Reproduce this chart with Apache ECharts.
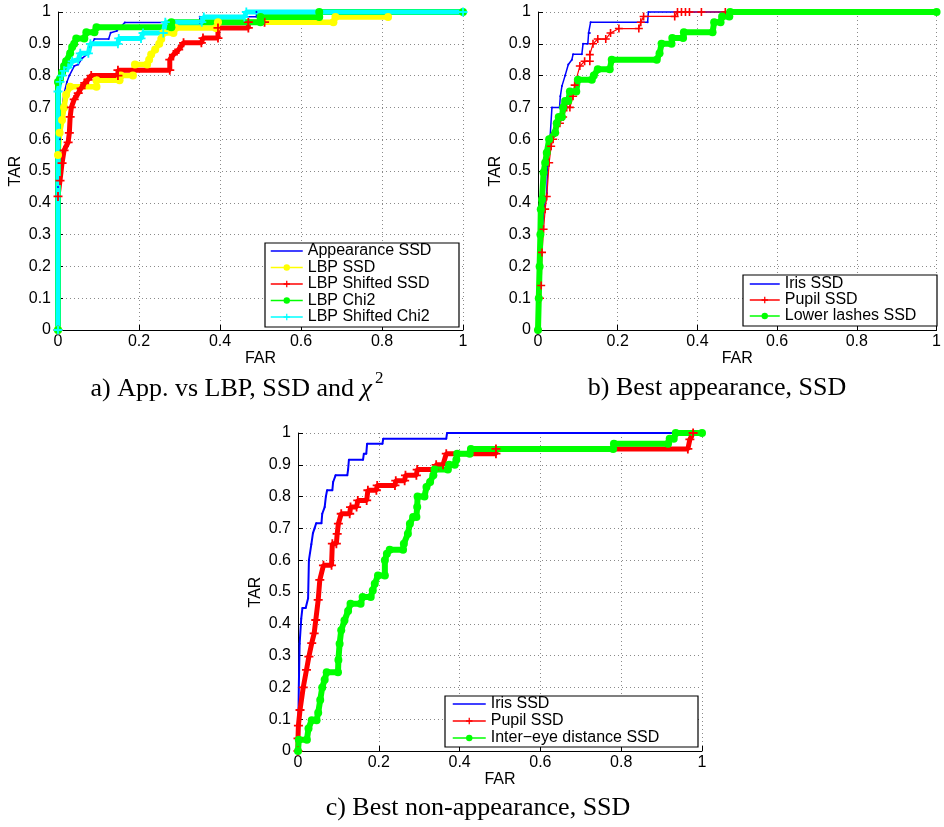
<!DOCTYPE html>
<html><head><meta charset="utf-8">
<script src="https://cdn.jsdelivr.net/npm/echarts@6/dist/echarts.min.js"></script>
<style>html,body{margin:0;padding:0;background:#fff}#c{width:944px;height:827px}</style>
</head><body><div id="c"></div>
<script>
// ---- tick labels ----
const xTickLabels = ['0', '0.2', '0.4', '0.6', '0.8', '1'];
const yTickLabels = ['0', '0.1', '0.2', '0.3', '0.4', '0.5', '0.6', '0.7', '0.8', '0.9', '1'];

// ---- a) App. vs LBP ----
const aAppearanceSSD = [[0,0],[0,0.45],[0.005,0.6],[0.01,0.7],[0.015,0.745],[0.022,0.78],[0.028,0.8],[0.04,0.83],[0.05,0.835],[0.06,0.855],[0.075,0.87],[0.08,0.89],[0.09,0.915],[0.125,0.915],[0.13,0.935],[0.145,0.94],[0.165,0.967],[0.35,0.967],[0.35,0.985],[0.49,0.985],[0.49,1],[1,1]];
const aLbpSSD = [[0,0],[0,0.55],[0.004,0.62],[0.01,0.66],[0.015,0.7],[0.02,0.74],[0.03,0.765],[0.095,0.765],[0.095,0.785],[0.152,0.785],[0.155,0.8],[0.185,0.8],[0.19,0.835],[0.22,0.835],[0.225,0.85],[0.23,0.866],[0.24,0.882],[0.25,0.9],[0.255,0.915],[0.26,0.934],[0.285,0.934],[0.29,0.95],[0.39,0.95],[0.395,0.968],[0.68,0.968],[0.685,0.984],[0.815,0.984]];
const aLbpShiftedSSD = [[0,0],[0,0.42],[0.005,0.47],[0.01,0.525],[0.015,0.565],[0.025,0.59],[0.028,0.62],[0.03,0.67],[0.033,0.7],[0.04,0.725],[0.05,0.745],[0.057,0.76],[0.066,0.777],[0.074,0.787],[0.082,0.8],[0.148,0.8],[0.148,0.817],[0.276,0.817],[0.276,0.85],[0.285,0.866],[0.298,0.882],[0.31,0.903],[0.354,0.903],[0.358,0.918],[0.395,0.918],[0.395,0.95],[0.47,0.95],[0.47,0.968],[0.51,0.968]];
const aLbpChi2 = [[0,0],[0,0.78],[0.005,0.79],[0.01,0.81],[0.015,0.83],[0.02,0.845],[0.03,0.87],[0.035,0.89],[0.04,0.9],[0.045,0.917],[0.065,0.917],[0.07,0.936],[0.09,0.936],[0.095,0.952],[0.28,0.952],[0.28,0.968],[0.5,0.968],[0.5,0.984],[0.645,0.984],[0.645,1],[1,1]];
const aLbpShiftedChi2 = [[0,0],[0,0.75],[0.005,0.78],[0.01,0.8],[0.015,0.815],[0.025,0.825],[0.035,0.845],[0.05,0.85],[0.055,0.87],[0.075,0.87],[0.08,0.9],[0.148,0.9],[0.15,0.917],[0.205,0.917],[0.21,0.934],[0.26,0.934],[0.265,0.968],[0.355,0.968],[0.36,0.984],[0.46,0.984],[0.465,1],[1,1]];

// ---- b) Best appearance ----
const bIrisSSD = [[0,0],[0.005,0.2],[0.01,0.3],[0.015,0.38],[0.022,0.43],[0.024,0.516],[0.03,0.6],[0.035,0.7],[0.054,0.7],[0.056,0.735],[0.06,0.767],[0.068,0.8],[0.076,0.835],[0.085,0.85],[0.088,0.867],[0.11,0.867],[0.113,0.9],[0.125,0.9],[0.127,0.934],[0.13,0.934],[0.132,0.968],[0.275,0.968],[0.277,1],[1,1]];
const bPupilSSD = [[0,0],[0.005,0.1],[0.008,0.14],[0.01,0.244],[0.014,0.317],[0.018,0.38],[0.022,0.42],[0.028,0.526],[0.033,0.578],[0.038,0.6],[0.043,0.62],[0.055,0.65],[0.063,0.67],[0.072,0.7],[0.08,0.7],[0.088,0.735],[0.092,0.77],[0.105,0.83],[0.117,0.845],[0.13,0.845],[0.13,0.866],[0.138,0.9],[0.15,0.915],[0.17,0.915],[0.182,0.934],[0.203,0.948],[0.253,0.948],[0.258,0.968],[0.265,0.986],[0.343,0.986],[0.35,1],[0.36,1],[0.37,1],[0.38,1],[0.41,1],[0.47,1]];
const bLowerLashesSSD = [[0,0],[0.002,0.1],[0.004,0.2],[0.006,0.3],[0.007,0.38],[0.01,0.41],[0.014,0.495],[0.018,0.526],[0.022,0.557],[0.028,0.6],[0.043,0.62],[0.047,0.65],[0.052,0.67],[0.06,0.67],[0.063,0.7],[0.068,0.72],[0.076,0.72],[0.08,0.75],[0.096,0.75],[0.1,0.787],[0.135,0.787],[0.14,0.8],[0.15,0.82],[0.18,0.82],[0.185,0.85],[0.298,0.85],[0.305,0.87],[0.31,0.9],[0.335,0.9],[0.337,0.918],[0.364,0.918],[0.366,0.936],[0.438,0.936],[0.442,0.968],[0.458,0.968],[0.462,0.986],[0.48,0.986],[0.482,1],[1,1]];

// ---- c) Best non-appearance ----
const cIrisSSD = [[0,0],[0.002,0.2],[0.004,0.337],[0.008,0.416],[0.011,0.45],[0.019,0.45],[0.025,0.48],[0.027,0.6],[0.033,0.65],[0.037,0.685],[0.041,0.7],[0.045,0.716],[0.058,0.716],[0.06,0.746],[0.066,0.767],[0.069,0.8],[0.072,0.82],[0.085,0.82],[0.087,0.846],[0.093,0.867],[0.122,0.867],[0.124,0.885],[0.126,0.916],[0.161,0.916],[0.163,0.935],[0.169,0.935],[0.171,0.966],[0.209,0.966],[0.211,0.982],[0.367,0.982],[0.369,1],[1,1]];
const cPupilSSD = [[0,0],[0,0.04],[0.001,0.08],[0.005,0.129],[0.013,0.2],[0.021,0.255],[0.027,0.297],[0.034,0.339],[0.04,0.37],[0.044,0.412],[0.05,0.475],[0.054,0.538],[0.063,0.584],[0.083,0.584],[0.085,0.652],[0.095,0.652],[0.097,0.683],[0.1,0.715],[0.107,0.746],[0.128,0.746],[0.13,0.767],[0.145,0.767],[0.148,0.788],[0.17,0.788],[0.173,0.82],[0.194,0.82],[0.196,0.835],[0.24,0.835],[0.242,0.85],[0.264,0.85],[0.266,0.867],[0.293,0.867],[0.295,0.885],[0.338,0.885],[0.342,0.9],[0.359,0.9],[0.367,0.935],[0.49,0.935],[0.49,0.95],[0.965,0.95],[0.97,0.98],[0.978,1]];
const cInterEyeSSD = [[0,0],[0.002,0.035],[0.022,0.035],[0.026,0.071],[0.034,0.097],[0.046,0.097],[0.05,0.12],[0.055,0.16],[0.06,0.2],[0.066,0.224],[0.071,0.248],[0.099,0.248],[0.1,0.286],[0.103,0.337],[0.107,0.38],[0.115,0.41],[0.124,0.44],[0.13,0.463],[0.155,0.463],[0.16,0.484],[0.18,0.484],[0.185,0.505],[0.19,0.526],[0.198,0.552],[0.215,0.552],[0.215,0.6],[0.22,0.62],[0.227,0.633],[0.26,0.633],[0.262,0.652],[0.272,0.683],[0.277,0.715],[0.285,0.736],[0.293,0.736],[0.295,0.767],[0.296,0.8],[0.313,0.8],[0.318,0.83],[0.327,0.846],[0.335,0.867],[0.338,0.885],[0.371,0.885],[0.374,0.9],[0.388,0.9],[0.392,0.916],[0.394,0.935],[0.425,0.935],[0.428,0.95],[0.78,0.95],[0.782,0.966],[0.916,0.966],[0.92,0.982],[0.93,0.982],[0.935,1],[1,1]];

const SANS = '"Liberation Sans", Arial, Helvetica, sans-serif';
const SERIF = '"Liberation Serif", "Times New Roman", serif';
const PLUS = 'path://M4,0L6,0L6,4L10,4L10,6L6,6L6,10L4,10L4,6L0,6L0,4L4,4Z';

const grids = [
  {left: 58, top: 12, width: 405, height: 318},
  {left: 538, top: 12, width: 405, height: 318},
  {left: 298, top: 433, width: 404, height: 318}
];

function xAx(i) {
  return {
    gridIndex: i, type: 'value', min: 0, max: 1, interval: 0.2,
    name: 'FAR', nameLocation: 'middle', nameGap: 17,
    nameTextStyle: {fontFamily: SANS, fontSize: 16, color: '#000'},
    axisLine: {show: true, onZero: false, lineStyle: {color: '#000', width: 1}},
    axisTick: {show: true, inside: true, length: 5, lineStyle: {color: '#000'}},
    axisLabel: {color: '#000', fontFamily: SANS, fontSize: 16, margin: 4,
      formatter: v => xTickLabels[Math.round(v / 0.2)]},
    splitLine: {show: true, lineStyle: {type: [1, 3], color: '#8a8a8a', width: 1}}
  };
}
function yAx(i) {
  return {
    gridIndex: i, type: 'value', min: 0, max: 1, interval: 0.1,
    name: 'TAR', nameLocation: 'middle', nameGap: 34,
    nameTextStyle: {fontFamily: SANS, fontSize: 16, color: '#000'},
    axisLine: {show: true, onZero: false, lineStyle: {color: '#000', width: 1}},
    axisTick: {show: true, inside: true, length: 5, lineStyle: {color: '#000'}},
    axisLabel: {color: '#000', fontFamily: SANS, fontSize: 16, margin: 7,
      formatter: v => yTickLabels[Math.round(v / 0.1)]},
    splitLine: {show: true, lineStyle: {type: [1, 3], color: '#8a8a8a', width: 1}}
  };
}

function ser(name, data, gi, color, width, symbol, size) {
  return {
    type: 'line', name: name, data: data, xAxisIndex: gi, yAxisIndex: gi,
    color: color, symbol: symbol, symbolSize: size, showAllSymbol: true, clip: false,
    lineStyle: {color: color, width: width}, itemStyle: {color: color},
    animation: false, silent: true, z: 2
  };
}

const series = [
  ser('Appearance SSD', aAppearanceSSD, 0, '#0000ff', 1.5, 'circle', 2),
  ser('LBP SSD', aLbpSSD, 0, '#ffff00', 5.5, 'circle', 8),
  ser('LBP Shifted SSD', aLbpShiftedSSD, 0, '#ff0000', 5, PLUS, 9),
  ser('LBP Chi2', aLbpChi2, 0, '#00ff00', 6, 'circle', 8),
  ser('LBP Shifted Chi2', aLbpShiftedChi2, 0, '#00ffff', 5, PLUS, 9),
  ser('Iris SSD', bIrisSSD, 1, '#0000ff', 1.5, 'circle', 2),
  ser('Pupil SSD', bPupilSSD, 1, '#ff0000', 1.2, PLUS, 8),
  ser('Lower lashes SSD', bLowerLashesSSD, 1, '#00ff00', 6, 'circle', 8),
  ser('Iris SSD', cIrisSSD, 2, '#0000ff', 2, 'circle', 2),
  ser('Pupil SSD', cPupilSSD, 2, '#ff0000', 5, PLUS, 9),
  ser('Inter\u2212eye distance SSD', cInterEyeSSD, 2, '#00ff00', 6, 'circle', 8)
];

function leg(left, top, iw, gap, names) {
  return {
    left: left, top: top, orient: 'vertical', itemWidth: iw, itemHeight: 8, itemGap: gap,
    padding: 0, selectedMode: false, z: 6,
    lineStyle: {width: 1.5},
    textStyle: {fontFamily: SANS, fontSize: 16, color: '#000'},
    data: names.map(n => (n === 'Appearance SSD' || n === 'Iris SSD') ? {name: n, itemStyle: {opacity: 0}} : {name: n})
  };
}

const option = {
  backgroundColor: '#fff',
  animation: false,
  grid: grids,
  xAxis: [xAx(0), xAx(1), xAx(2)],
  yAxis: [yAx(0), yAx(1), yAx(2)],
  legend: [
    leg(270, 243, 32, 0.5, ['Appearance SSD', 'LBP SSD', 'LBP Shifted SSD', 'LBP Chi2', 'LBP Shifted Chi2']),
    leg(749, 276, 30, 0, ['Iris SSD', 'Pupil SSD', 'Lower lashes SSD']),
    leg(452, 696, 33, 1, ['Iris SSD', 'Pupil SSD', 'Inter\u2212eye distance SSD'])
  ],
  graphic: [
    {type: 'rect', z: 5, shape: {x: 265, y: 243, width: 194, height: 84}, style: {fill: '#fff', stroke: '#000', lineWidth: 1.2}},
    {type: 'rect', z: 5, shape: {x: 743, y: 275, width: 194, height: 51}, style: {fill: '#fff', stroke: '#000', lineWidth: 1.2}},
    {type: 'rect', z: 5, shape: {x: 445, y: 696, width: 253, height: 51}, style: {fill: '#fff', stroke: '#000', lineWidth: 1.2}},
    {type: 'text', z: 10, x: 237, y: 386, style: {
      text: '{n|a) App. vs LBP, SSD and }{i|\u03c7}{s|2}',
      rich: {
        n: {fontFamily: SERIF, fontSize: 26, fill: '#000', lineHeight: 32, verticalAlign: 'bottom'},
        i: {fontFamily: SERIF, fontSize: 26, fontStyle: 'italic', fill: '#000', lineHeight: 32, verticalAlign: 'bottom'},
        s: {fontFamily: SERIF, fontSize: 17, fill: '#000', padding: [0, 0, 0, 3], lineHeight: 17, verticalAlign: 'top'}
      },
      align: 'center', verticalAlign: 'middle', textAlign: 'center', textVerticalAlign: 'middle'}},
    {type: 'text', z: 10, x: 717, y: 388, style: {
      text: 'b) Best appearance, SSD', fontFamily: SERIF, fontSize: 26, fill: '#000',
      align: 'center', verticalAlign: 'middle', textAlign: 'center', textVerticalAlign: 'middle'}},
    {type: 'text', z: 10, x: 478, y: 808, style: {
      text: 'c) Best non-appearance, SSD', fontFamily: SERIF, fontSize: 26, fill: '#000',
      align: 'center', verticalAlign: 'middle', textAlign: 'center', textVerticalAlign: 'middle'}}
  ],
  series: series
};

const chart = echarts.init(document.getElementById('c'), null, {renderer: 'canvas'});
chart.setOption(option);
</script>
</body></html>
